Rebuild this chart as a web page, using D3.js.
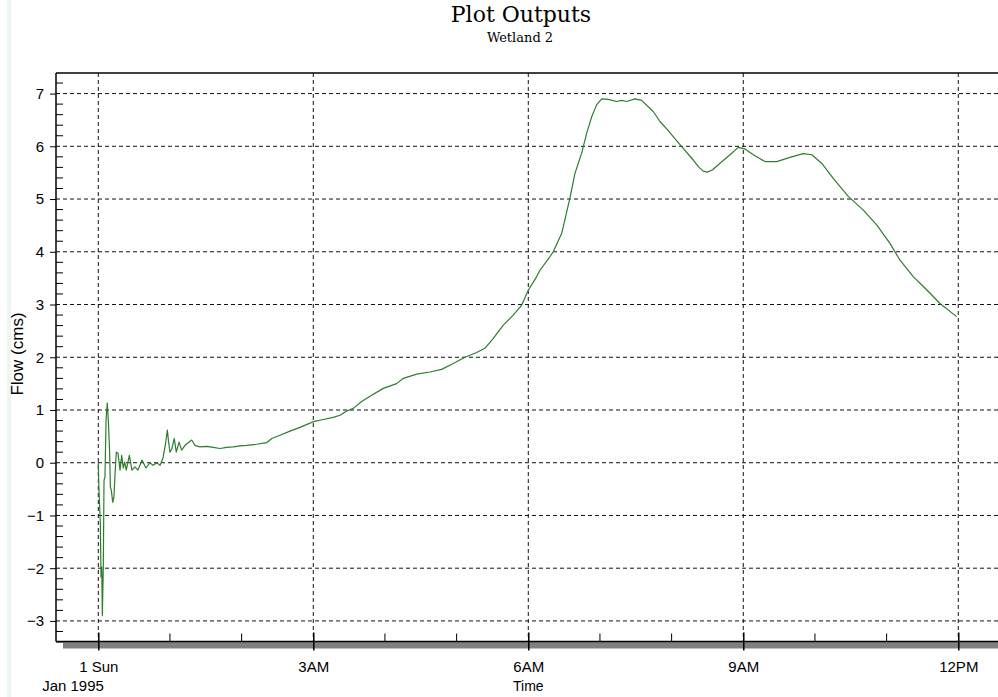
<!DOCTYPE html>
<html>
<head>
<meta charset="utf-8">
<script src="https://cdn.jsdelivr.net/npm/d3@7"></script>
<style>
  body { margin: 0; background: #fff; }
  svg { display: block; }
</style>
</head>
<body>
<svg id="chart" width="998" height="697"></svg>
<script>
// Simulated outflow for Wetland 2, 1 Jan 1995 (minutes after midnight, flow in cms)
const minutes = [0,0.4,1.7,2.3,2.9,3.4,4.2,4.8,5.6,6.5,7.5,8.4,9.5,10.1,10.9,12.1,13.1,14.2,15.1,16.5,
  18.2,19.6,20.9,22.1,23.4,26,28.2,30.7,33.2,36.6,39.9,43.3,45.8,49.1,51.7,54.2,56.4,57.8,58.9,60,
  61.7,63.6,65.3,67.6,69.8,72.6,78.2,81,85.1,90.8,96.3,101.9,107.5,113,118.6,124.2,132.6,141,145.2,
  152.1,160.5,168.9,177.2,180,188.4,196.7,202.4,208,213.5,220.5,227.5,238.6,249.8,255.4,266.6,277.7,
  287.5,297.2,307,316.8,323.7,330.7,339.1,347.4,354.5,360,367,369.8,378.2,380.9,388,394.9,399.1,404.7,
  408.9,413.1,417.3,421.5,427,434,438.2,442.4,449.3,454.9,464.6,470.3,475.9,487,498.1,503,506.5,510,514,
  520.5,528.9,535.8,541.4,548.4,558.2,568,579.1,590.2,597.3,605.6,615.3,627.9,640.5,651.7,662.8,
  671.2,682.3,693.5,704.7,718.6];
const flow = [0,-0.4,-1.15,-2.17,-1.98,-2.9,-1.98,-0.33,-0.27,0.81,1.13,0.81,0.2,-0.46,-0.52,-0.75,-0.65,-0.14,0.2,0.18,
  -0.14,0.14,-0.1,0.01,-0.14,0.14,-0.14,-0.08,-0.14,0.05,-0.1,0,-0.05,0,-0.05,0.09,0.37,0.62,0.39,0.2,
  0.27,0.46,0.2,0.39,0.24,0.33,0.43,0.33,0.3,0.31,0.29,0.27,0.29,0.3,0.32,0.33,0.35,0.38,0.46,
  0.52,0.6,0.67,0.75,0.78,0.82,0.86,0.9,0.98,1.03,1.16,1.26,1.41,1.5,1.6,1.68,1.72,
  1.77,1.88,2.0,2.09,2.17,2.36,2.61,2.8,2.99,3.27,3.53,3.65,3.91,4.0,4.35,5.02,5.49,5.87,
  6.25,6.56,6.79,6.9,6.89,6.85,6.87,6.85,6.9,6.87,6.66,6.47,6.33,6.03,5.74,5.6,5.53,5.51,5.55,
  5.68,5.84,5.98,5.95,5.84,5.71,5.71,5.79,5.86,5.84,5.68,5.39,5.05,4.79,4.51,4.16,
  3.84,3.53,3.28,3.02,2.77];

const yTicks = [-3,-2,-1,0,1,2,3,4,5,6,7];
const xTickHours = [0,3,6,9,12];
const xTickLabels = ["1 Sun","3AM","6AM","9AM","12PM"];
const dateLabel = "Jan 1995";
const titleText = "Plot Outputs";
const subtitleText = "Wetland 2";
const xTitle = "Time";
const yTitle = "Flow (cms)";

const start = new Date(1995, 0, 1, 0, 0, 0);
const atMinute = m => new Date(+start + m * 60000);
const data = minutes.map((m, i) => ({ date: atMinute(m), v: flow[i] }));

const svg = d3.select("#chart");
const plotL = 56, plotR = 1010, plotT = 73, plotB = 641.5;

const x = d3.scaleTime()
  .domain([atMinute(-35.4), atMinute(763.3)])
  .range([plotL, plotR]);
const y = d3.scaleLinear()
  .domain([-3.39, 7.39])
  .range([plotB, plotT]);

const sans = "'Liberation Sans', Arial, sans-serif";
const serif = "'DejaVu Serif', 'Liberation Serif', serif";

// faint strip at the window's left edge
svg.append("rect").attr("x", 7).attr("y", 0).attr("width", 4).attr("height", 697).attr("fill", "#eef6f4");

// titles
svg.append("text").attr("x", 521).attr("y", 22).attr("text-anchor", "middle")
  .attr("font-family", serif).attr("font-size", 22).attr("fill", "#000").text(titleText);
svg.append("text").attr("x", 520).attr("y", 42).attr("text-anchor", "middle")
  .attr("font-family", serif).attr("font-size", 13).attr("fill", "#000").text(subtitleText);

// shadow band under the time axis
svg.append("rect").attr("x", 63).attr("y", plotB + 0.5).attr("width", 1000).attr("height", 6.5).attr("fill", "#808080");

// dashed grid
const grid = svg.append("g").attr("stroke", "#111").attr("stroke-width", 1).attr("stroke-dasharray", "4,3");
grid.selectAll("line.h").data(yTicks).join("line").attr("class", "h")
  .attr("x1", plotL).attr("x2", plotR).attr("y1", d => y(d)).attr("y2", d => y(d));
grid.selectAll("line.v").data(xTickHours).join("line").attr("class", "v")
  .attr("x1", d => x(atMinute(d * 60))).attr("x2", d => x(atMinute(d * 60)))
  .attr("y1", plotT).attr("y2", plotB);

// flow series
const clip = svg.append("clipPath").attr("id", "plotclip");
clip.append("rect").attr("x", plotL).attr("y", plotT).attr("width", plotR - plotL).attr("height", plotB - plotT);
svg.append("path").datum(data)
  .attr("clip-path", "url(#plotclip)")
  .attr("fill", "none").attr("stroke", "#2e7d2e").attr("stroke-width", 1.2)
  .attr("stroke-linejoin", "round")
  .attr("d", d3.line().x(d => x(d.date)).y(d => y(d.v)));

// frame
svg.append("line").attr("x1", plotL).attr("x2", plotR).attr("y1", plotT).attr("y2", plotT).attr("stroke", "#000").attr("stroke-width", 1.5);
svg.append("line").attr("x1", plotL).attr("x2", plotL).attr("y1", plotT).attr("y2", plotB).attr("stroke", "#000").attr("stroke-width", 1.5);

// y axis: major ticks outside, minor ticks inside
const yAxis = svg.append("g").attr("transform", `translate(${plotL},0)`)
  .call(d3.axisLeft(y).tickValues(yTicks).tickSize(6).tickPadding(6).tickFormat(d3.format("d")));
yAxis.select(".domain").remove();
yAxis.selectAll("text").attr("font-family", sans).attr("font-size", 15).attr("fill", "#000");
const yMinor = d3.range(-17, 37).map(i => i / 5).filter(v => Math.abs(v - Math.round(v)) > 1e-9);
svg.append("g").attr("stroke", "#000").selectAll("line").data(yMinor).join("line")
  .attr("x1", plotL).attr("x2", plotL + 7).attr("y1", d => y(d)).attr("y2", d => y(d));

// x axis
svg.append("line").attr("x1", plotL).attr("x2", plotR).attr("y1", plotB).attr("y2", plotB).attr("stroke", "#000").attr("stroke-width", 1.5);
const xAxis = svg.append("g").attr("transform", `translate(0,${plotB})`)
  .call(d3.axisBottom(x)
    .tickValues(xTickHours.map(h => atMinute(h * 60)))
    .tickSize(9).tickPadding(11)
    .tickFormat((d, i) => xTickLabels[i]));
xAxis.select(".domain").remove();
xAxis.selectAll(".tick line").attr("y1", -9).attr("stroke-width", 1.5);
xAxis.selectAll("text").attr("font-family", sans).attr("font-size", 15).attr("fill", "#000");
const xMinor = d3.range(0, 13).filter(h => h % 3 !== 0);
svg.append("g").attr("stroke", "#000").selectAll("line").data(xMinor).join("line")
  .attr("x1", d => x(atMinute(d * 60))).attr("x2", d => x(atMinute(d * 60)))
  .attr("y1", plotB - 8).attr("y2", plotB);

// axis titles
svg.append("text").attr("x", 73).attr("y", 691).attr("text-anchor", "middle")
  .attr("font-family", sans).attr("font-size", 15).attr("fill", "#000").text(dateLabel);
svg.append("text").attr("x", x(atMinute(360))).attr("y", 691).attr("text-anchor", "middle")
  .attr("font-family", sans).attr("font-size", 14).attr("fill", "#000").text(xTitle);
svg.append("text").attr("transform", "translate(23,354) rotate(-90)").attr("text-anchor", "middle")
  .attr("font-family", sans).attr("font-size", 17).attr("fill", "#000").text(yTitle);
</script>
</body>
</html>
